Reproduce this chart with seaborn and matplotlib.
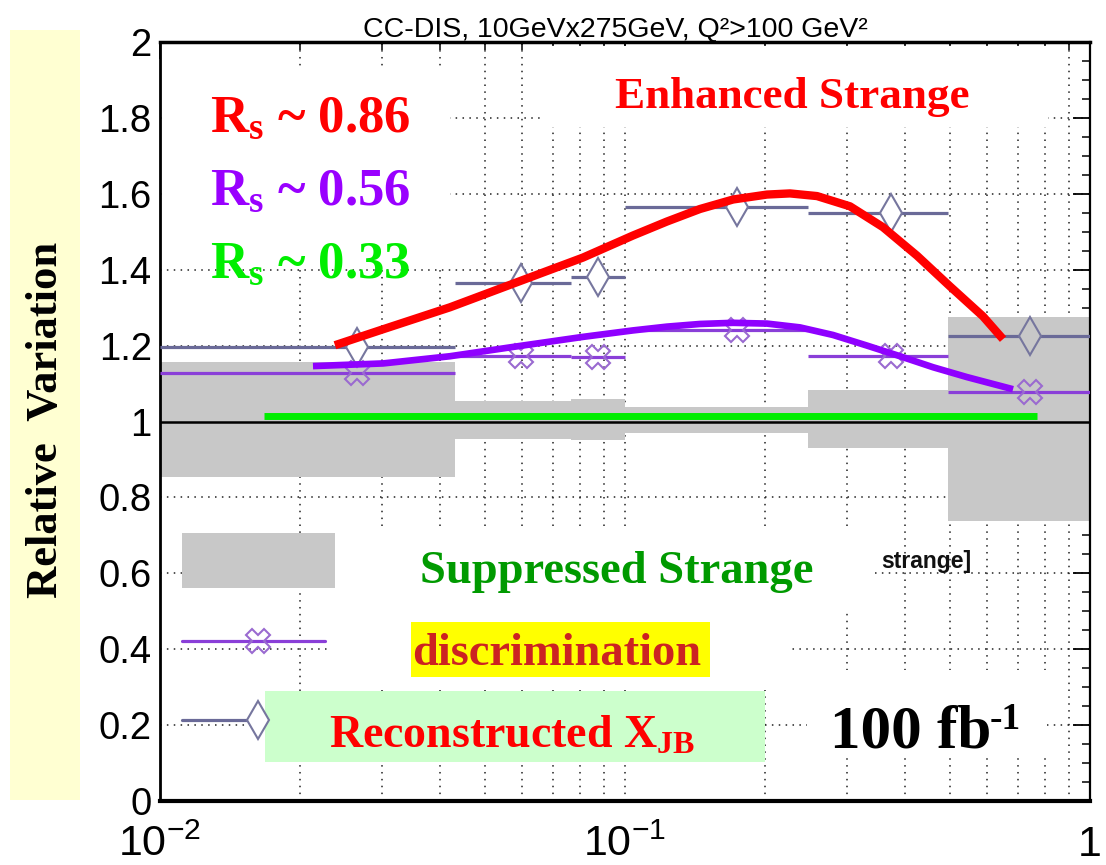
import numpy as np
import matplotlib
matplotlib.use("Agg")
import matplotlib.pyplot as plt
import seaborn as sns
from matplotlib.patches import Rectangle
from matplotlib.lines import Line2D
from matplotlib.ticker import MultipleLocator, NullFormatter, FixedLocator, FixedFormatter, LogLocator

# ---------------- data ----------------
bin_edges = [0.01, 0.0431, 0.0766, 0.1, 0.248, 0.496, 1.0]
band_lo = [0.854, 0.954, 0.952, 0.970, 0.930, 0.738]
band_hi = [1.156, 1.054, 1.059, 1.038, 1.083, 1.275]
marker_x = [0.0265, 0.0597, 0.0876, 0.174, 0.374, 0.743]
enhanced_y = [1.195, 1.364, 1.380, 1.564, 1.550, 1.225]
middle_y = [1.127, 1.172, 1.169, 1.240, 1.172, 1.077]

red_x = [0.02378, 0.03017, 0.04205, 0.05857, 0.08122, 0.1040, 0.1231, 0.1450, 0.1708,
         0.2020, 0.2263, 0.2588, 0.3047, 0.3588, 0.4246, 0.5000, 0.5888, 0.6501]
red_y = [1.201, 1.243, 1.301, 1.367, 1.432, 1.490, 1.527, 1.560, 1.585,
         1.598, 1.601, 1.594, 1.567, 1.512, 1.437, 1.356, 1.277, 1.217]
purple_x = [0.02133, 0.03017, 0.04205, 0.05857, 0.08122, 0.1040, 0.1231, 0.1450, 0.1708,
            0.2020, 0.2378, 0.2801, 0.3315, 0.3904, 0.4597, 0.5438, 0.6831]
purple_y = [1.146, 1.153, 1.172, 1.198, 1.223, 1.240, 1.250, 1.257, 1.260,
            1.258, 1.248, 1.228, 1.200, 1.172, 1.143, 1.117, 1.085]
green_x = [0.0167, 0.769]
green_y = [1.014, 1.014]

y_ticks = [0, 0.2, 0.4, 0.6, 0.8, 1.0, 1.2, 1.4, 1.6, 1.8, 2.0]
y_tick_labels = ["0", "0.2", "0.4", "0.6", "0.8", "1", "1.2", "1.4", "1.6", "1.8", "2"]
x_ticks = [0.01, 0.1, 1.0]
x_tick_labels = [r"$10^{-2}$", r"$10^{-1}$", "1"]

# ---------------- style ----------------
sns.set_style("white")
plt.rcParams["mathtext.fontset"] = "custom"
plt.rcParams["mathtext.rm"] = "Liberation Sans"
plt.rcParams["mathtext.it"] = "Liberation Sans:italic"
plt.rcParams["mathtext.bf"] = "Liberation Serif:bold"
plt.rcParams["font.family"] = ["Liberation Sans", "DejaVu Sans"]

W, H = 1106, 865
fig = plt.figure(figsize=(W / 100, H / 100), dpi=100)
fig.patch.set_facecolor("white")


def P(x, y):
    return (x / W, 1 - y / H)


def frect(x0, y0, x1, y1):
    return (x0 / W, 1 - y1 / H), (x1 - x0) / W, (y1 - y0) / H


ax = fig.add_axes([160 / W, 64 / H, 930 / W, 759 / H])
ax.set_xscale("log")
ax.set_xlim(0.01, 1.0)
ax.set_ylim(0, 2)
ax.set_axisbelow(True)

# grid (ROOT dotted style)
grid_kw = dict(ls=(0, (1, 3.5)), color="#222222", lw=1.1)
ax.xaxis.grid(True, which="both", **grid_kw)
ax.yaxis.grid(True, which="major", **grid_kw)

# white patches pasted over the grid in the original composite
for (x0, y0, x1, y1) in [(162, 68, 450, 266), (545, 46, 1048, 127), (338, 527, 875, 612),
                         (330, 612, 790, 690), (807, 670, 1047, 753)]:
    xy, w, h = frect(x0, y0, x1, y1)
    ax.add_patch(Rectangle(xy, w, h, transform=fig.transFigure, facecolor="white",
                           edgecolor="none", zorder=1))

# uncertainty bands
ax.bar(bin_edges[:-1], np.subtract(band_hi, band_lo), width=np.diff(bin_edges),
       bottom=band_lo, align="edge", color="#c8c8c8", linewidth=0, zorder=1.5)
ax.axhline(1.0, color="black", lw=1.8, zorder=2)

# binned predictions
ax.hlines(enhanced_y, bin_edges[:-1], bin_edges[1:], color="#6a6a98", lw=2.3, zorder=3)
ax.hlines(middle_y, bin_edges[:-1], bin_edges[1:], color="#8a3fd8", lw=2.3, zorder=3)
diamond_face = ["white", "white", "white", "white", "white", "#c8c8c8"]
for xm, ym, fc in zip(marker_x, enhanced_y, diamond_face):
    ax.plot([xm], [ym], ls="none", marker="d", ms=19, mfc=fc,
            mec="#76769e", mew=1.5, zorder=4)
ax.plot(marker_x, middle_y, ls="none", marker="X", ms=17, mfc="none",
        mec="#9a6ad0", mew=1.5, zorder=4)

# hand-drawn trend curves
sns.lineplot(x=red_x, y=red_y, sort=False, estimator=None, color="#ff0000", lw=6,
             ax=ax, zorder=5, solid_capstyle="butt", solid_joinstyle="round")
sns.lineplot(x=purple_x, y=purple_y, sort=False, estimator=None, color="#8f00ff", lw=4.8,
             ax=ax, zorder=5, solid_capstyle="butt", solid_joinstyle="round")
sns.lineplot(x=green_x, y=green_y, sort=False, estimator=None, color="#00ee00", lw=5,
             ax=ax, zorder=5, solid_capstyle="butt")

# ticks
ax.xaxis.set_major_locator(FixedLocator(x_ticks))
ax.xaxis.set_major_formatter(FixedFormatter(x_tick_labels))
ax.xaxis.set_minor_locator(LogLocator(base=10, subs=np.arange(2, 10)))
ax.xaxis.set_minor_formatter(NullFormatter())
ax.yaxis.set_major_locator(FixedLocator(y_ticks))
ax.yaxis.set_major_formatter(FixedFormatter(y_tick_labels))
ax.yaxis.set_minor_locator(MultipleLocator(0.05))
ax.tick_params(which="both", direction="in", top=True, right=True, colors="black")
ax.tick_params(which="major", length=12, width=1.3, pad=6)
ax.tick_params(which="minor", length=6, width=1.1)
ax.tick_params(axis="y", which="major", labelsize=27.5)
ax.tick_params(axis="x", which="major", labelsize=31, pad=17)
for lab in ax.get_xticklabels() + ax.get_yticklabels():
    lab.set_fontfamily("Liberation Sans")

for side, lw in [("left", 2.0), ("bottom", 3.0), ("top", 2.5), ("right", 1.6)]:
    ax.spines[side].set_linewidth(lw)
    ax.spines[side].set_color("black")

# title
fig.text(*P(615, 37), "CC-DIS, 10GeVx275GeV, Q²>100 GeV²", ha="center", va="baseline",
         fontsize=20.5, family="Liberation Sans", color="black")

# legend remnants (lower left)
xy, w, h = frect(182, 533, 335, 588)
ax.add_patch(Rectangle(xy, w, h, transform=fig.transFigure, facecolor="#c8c8c8",
                       edgecolor="none", zorder=2))
ax.add_line(Line2D([182 / W, 325 / W], [1 - 641 / H, 1 - 641 / H], transform=fig.transFigure,
                   color="#8a3fd8", lw=2.3, zorder=3))
ax.add_line(Line2D([258 / W], [1 - 641 / H], transform=fig.transFigure, ls="none",
                   marker="X", ms=17, mfc="none", mec="#9a6ad0", mew=1.5, zorder=4))
ax.add_line(Line2D([182 / W, 262 / W], [1 - 720 / H, 1 - 720 / H], transform=fig.transFigure,
                   color="#6a6a98", lw=2.3, zorder=3))
ax.add_line(Line2D([258 / W], [1 - 720 / H], transform=fig.transFigure, ls="none",
                   marker="d", ms=19, mfc="white", mec="#76769e", mew=1.5, zorder=4))
fig.text(*P(881, 568), "strange]", ha="left", va="baseline", fontsize=16.5,
         family="Liberation Sans", weight="bold", color="#111111")

# highlight boxes
xy, w, h = frect(265, 691, 765, 762)
ax.add_patch(Rectangle(xy, w, h, transform=fig.transFigure, facecolor="#ccffcc",
                       edgecolor="none", zorder=2))
xy, w, h = frect(411, 622, 710, 677)
ax.add_patch(Rectangle(xy, w, h, transform=fig.transFigure, facecolor="#ffff00",
                       edgecolor="none", zorder=2))

serif = dict(family="Liberation Serif", weight="bold")
fig.text(*P(210, 132), r"$\mathbf{R_s}$ ~ 0.86", color="#ff0000", fontsize=38,
         ha="left", va="baseline", **serif)
fig.text(*P(210, 205), r"$\mathbf{R_s}$ ~ 0.56", color="#9900ff", fontsize=38,
         ha="left", va="baseline", **serif)
fig.text(*P(210, 278), r"$\mathbf{R_s}$ ~ 0.33", color="#00ee00", fontsize=38,
         ha="left", va="baseline", **serif)
fig.text(*P(615, 108), "Enhanced Strange", color="#ff0000", fontsize=32.5,
         ha="left", va="baseline", **serif)
fig.text(*P(420, 583), "Suppressed Strange", color="#009a00", fontsize=33.5,
         ha="left", va="baseline", **serif)
fig.text(*P(412, 665), "discrimination", color="#cc2222", fontsize=33.5,
         ha="left", va="baseline", **serif)
fig.text(*P(329, 748), r"Reconstructed $\mathbf{X_{JB}}$", color="#ff0000", fontsize=33,
         ha="left", va="baseline", **serif)
fig.text(*P(830, 747), "100 fb", color="black", fontsize=44,
         ha="left", va="baseline", **serif)
fig.text(*P(990, 729), "-1", color="black", fontsize=27,
         ha="left", va="baseline", **serif)

# y-axis label on pale yellow strip
xy, w, h = frect(10, 30, 80, 800)
fig.add_artist(Rectangle(xy, w, h, transform=fig.transFigure, facecolor="#ffffd2",
                         edgecolor="none", zorder=0))
fig.text(*P(46, 420), "Relative  Variation", rotation=90, ha="center", va="center",
         fontsize=32, color="black", **serif)

fig.savefig("out.png", dpi=100)
